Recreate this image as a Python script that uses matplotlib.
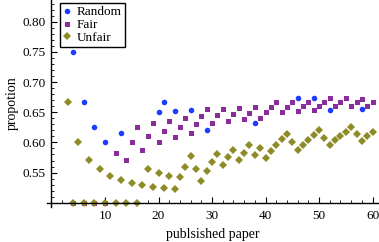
import numpy as np
import matplotlib
matplotlib.use("Agg")
import matplotlib.pyplot as plt
from matplotlib.ticker import MultipleLocator

# visible points
random_x = [4, 6, 8, 10, 13, 20, 21, 23, 26, 29, 38, 46, 49, 52, 58]
random_y = [0.750, 0.667, 0.625, 0.600, 0.615, 0.650, 0.667, 0.652, 0.654,
            0.621, 0.632, 0.674, 0.673, 0.654, 0.655]

fair_x = [4, 6, 8, 10, 12, 14] + list(range(15, 61))
fair_y = [0.5, 0.5, 0.5, 0.5, 0.583, 0.571,
          0.600, 0.625, 0.588, 0.611, 0.632, 0.600, 0.619, 0.636, 0.609, 0.625,
          0.640, 0.615, 0.630, 0.643, 0.655, 0.633, 0.645, 0.656, 0.636, 0.647,
          0.657, 0.639, 0.649, 0.658, 0.641, 0.650, 0.659, 0.667, 0.651, 0.659,
          0.667, 0.652, 0.660, 0.667, 0.653, 0.660, 0.667, 0.673, 0.660, 0.667,
          0.673, 0.661, 0.667, 0.672, 0.661, 0.667]

unfair_x = list(range(3, 61))
unfair_y = [0.667, 0.5, 0.600, 0.5, 0.571, 0.5, 0.556, 0.5, 0.545, 0.5,
            0.538, 0.5, 0.533, 0.5, 0.529, 0.556, 0.526, 0.550, 0.524, 0.545,
            0.522, 0.542, 0.560, 0.577, 0.556, 0.536, 0.552, 0.567, 0.581, 0.563,
            0.576, 0.588, 0.571, 0.583, 0.595, 0.579, 0.590, 0.575, 0.585, 0.595,
            0.605, 0.614, 0.600, 0.587, 0.596, 0.604, 0.612, 0.620, 0.608, 0.596,
            0.604, 0.611, 0.618, 0.625, 0.614, 0.603, 0.610, 0.617]

x_major = [10, 20, 30, 40, 50, 60]
y_major = [0.55, 0.60, 0.65, 0.70, 0.75, 0.80]

plt.rcParams['font.family'] = ['Liberation Serif', 'DejaVu Serif']

fig = plt.figure(figsize=(3.79, 2.42), dpi=100)
ax = fig.add_axes([47 / 379, 35 / 242, 1 - 47 / 379, 1 - 35 / 242])

ax.plot(random_x, random_y, 'o', color='#1e3cff', markersize=4.0, mew=0, label='Random')
ax.plot(fair_x, fair_y, 's', color='#8b2b9e', markersize=3.6, mew=0, label='Fair')
ax.plot(unfair_x, unfair_y, 'D', color='#8e8a25', markersize=3.6, mew=0, label='Unfair')

ax.set_xlim(-0.84, 61.2)
ax.set_ylim(0.493, 0.836)

ax.spines['left'].set_position(('data', 0))
ax.spines['bottom'].set_position(('data', 0.5))
ax.spines['right'].set_visible(False)
ax.spines['top'].set_visible(False)
for s in ['left', 'bottom']:
    ax.spines[s].set_linewidth(1.0)

ax.set_xticks(x_major)
ax.set_yticks(y_major)
ax.set_yticklabels(['%.2f' % v for v in y_major])
ax.xaxis.set_minor_locator(MultipleLocator(2))
ax.yaxis.set_minor_locator(MultipleLocator(0.01))
ax.tick_params(which='major', direction='in', length=4, width=0.8, labelsize=9.5)
ax.tick_params(which='minor', direction='in', length=2, width=0.6)
ax.tick_params(axis='x', pad=5)
ax.tick_params(axis='y', pad=4)

ax.set_xlabel('publsished paper', fontsize=10)
ax.set_ylabel('propotion', fontsize=10, labelpad=3)
ax.xaxis.set_label_coords(0.5, -0.1)

leg = ax.legend(loc='upper left', bbox_to_anchor=(60 / 379, 1 - 2.7 / 242),
                bbox_transform=fig.transFigure, borderaxespad=0,
                handlelength=0.6, handletextpad=0.4, labelspacing=0.05,
                borderpad=0.25, fancybox=False, edgecolor='black',
                framealpha=1, fontsize=9.5)
leg.get_frame().set_linewidth(1.0)

fig.savefig('out.png', dpi=100)
